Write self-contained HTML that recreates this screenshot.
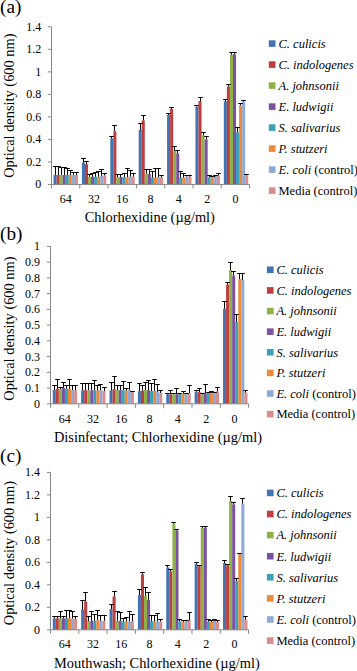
<!DOCTYPE html>
<html><head><meta charset="utf-8"><style>
html,body{margin:0;padding:0;background:#fff;}
body{width:357px;height:671px;overflow:hidden;}
svg{display:block;}
text{font-family:"Liberation Serif",serif;fill:#000;}
</style></head><body>
<svg width="357" height="671" viewBox="0 0 357 671">
<rect width="357" height="671" fill="#fff"/>
<text x="0" y="12.8" font-size="19.2">(a)</text>
<line x1="47.9" y1="184.44" x2="51.5" y2="184.44" stroke="#868686" stroke-width="1"/>
<text x="41.2" y="188.44" font-size="12" text-anchor="end">0</text>
<line x1="47.9" y1="161.93" x2="51.5" y2="161.93" stroke="#868686" stroke-width="1"/>
<text x="41.2" y="165.93" font-size="12" text-anchor="end">0.2</text>
<line x1="47.9" y1="139.41" x2="51.5" y2="139.41" stroke="#868686" stroke-width="1"/>
<text x="41.2" y="143.41" font-size="12" text-anchor="end">0.4</text>
<line x1="47.9" y1="116.9" x2="51.5" y2="116.9" stroke="#868686" stroke-width="1"/>
<text x="41.2" y="120.9" font-size="12" text-anchor="end">0.6</text>
<line x1="47.9" y1="94.39" x2="51.5" y2="94.39" stroke="#868686" stroke-width="1"/>
<text x="41.2" y="98.39" font-size="12" text-anchor="end">0.8</text>
<line x1="47.9" y1="71.88" x2="51.5" y2="71.88" stroke="#868686" stroke-width="1"/>
<text x="41.2" y="75.88" font-size="12" text-anchor="end">1</text>
<line x1="47.9" y1="49.36" x2="51.5" y2="49.36" stroke="#868686" stroke-width="1"/>
<text x="41.2" y="53.36" font-size="12" text-anchor="end">1.2</text>
<line x1="47.9" y1="26.85" x2="51.5" y2="26.85" stroke="#868686" stroke-width="1"/>
<text x="41.2" y="30.85" font-size="12" text-anchor="end">1.4</text>
<rect x="53.55" y="174.93" width="3.05" height="9.51" fill="#4374B2"/>
<rect x="56.6" y="174.93" width="3.05" height="9.51" fill="#BE3F3F"/>
<rect x="59.65" y="174.93" width="3.05" height="9.51" fill="#8FB247"/>
<rect x="62.7" y="174.93" width="3.05" height="9.51" fill="#7A52A0"/>
<rect x="65.75" y="174.93" width="3.05" height="9.51" fill="#3AA2B8"/>
<rect x="68.8" y="174.93" width="3.05" height="9.51" fill="#EC8A3A"/>
<rect x="71.85" y="174.93" width="3.05" height="9.51" fill="#8FAAD5"/>
<rect x="74.9" y="174.93" width="3.05" height="9.51" fill="#DB8D8E"/>
<line x1="55.5" y1="174.93" x2="55.5" y2="166.5" stroke="#000" stroke-width="1"/>
<line x1="53.2" y1="166.5" x2="57.8" y2="166.5" stroke="#000" stroke-width="1"/>
<line x1="58.5" y1="174.93" x2="58.5" y2="166.5" stroke="#000" stroke-width="1"/>
<line x1="56.2" y1="166.5" x2="60.8" y2="166.5" stroke="#000" stroke-width="1"/>
<line x1="61.5" y1="174.93" x2="61.5" y2="167.5" stroke="#000" stroke-width="1"/>
<line x1="59.2" y1="167.5" x2="63.8" y2="167.5" stroke="#000" stroke-width="1"/>
<line x1="64.5" y1="174.93" x2="64.5" y2="167.5" stroke="#000" stroke-width="1"/>
<line x1="62.2" y1="167.5" x2="66.8" y2="167.5" stroke="#000" stroke-width="1"/>
<line x1="67.5" y1="174.93" x2="67.5" y2="168.5" stroke="#000" stroke-width="1"/>
<line x1="65.2" y1="168.5" x2="69.8" y2="168.5" stroke="#000" stroke-width="1"/>
<line x1="70.5" y1="174.93" x2="70.5" y2="170.5" stroke="#000" stroke-width="1"/>
<line x1="68.2" y1="170.5" x2="72.8" y2="170.5" stroke="#000" stroke-width="1"/>
<line x1="73.5" y1="174.93" x2="73.5" y2="172.5" stroke="#000" stroke-width="1"/>
<line x1="71.2" y1="172.5" x2="75.8" y2="172.5" stroke="#000" stroke-width="1"/>
<line x1="76.5" y1="174.93" x2="76.5" y2="172.5" stroke="#000" stroke-width="1"/>
<line x1="74.2" y1="172.5" x2="78.8" y2="172.5" stroke="#000" stroke-width="1"/>
<rect x="81.93" y="162.55" width="3.05" height="21.89" fill="#4374B2"/>
<rect x="84.98" y="164.24" width="3.05" height="20.2" fill="#BE3F3F"/>
<rect x="88.03" y="176.74" width="3.05" height="7.7" fill="#8FB247"/>
<rect x="91.08" y="176.74" width="3.05" height="7.7" fill="#7A52A0"/>
<rect x="94.13" y="176.74" width="3.05" height="7.7" fill="#3AA2B8"/>
<rect x="97.18" y="176.74" width="3.05" height="7.7" fill="#EC8A3A"/>
<rect x="100.23" y="175.84" width="3.05" height="8.6" fill="#8FAAD5"/>
<rect x="103.28" y="175.39" width="3.05" height="9.05" fill="#DB8D8E"/>
<line x1="83.5" y1="162.55" x2="83.5" y2="158.5" stroke="#000" stroke-width="1"/>
<line x1="81.2" y1="158.5" x2="85.8" y2="158.5" stroke="#000" stroke-width="1"/>
<line x1="86.5" y1="164.24" x2="86.5" y2="161.5" stroke="#000" stroke-width="1"/>
<line x1="84.2" y1="161.5" x2="88.8" y2="161.5" stroke="#000" stroke-width="1"/>
<line x1="89.5" y1="176.74" x2="89.5" y2="174.5" stroke="#000" stroke-width="1"/>
<line x1="87.2" y1="174.5" x2="91.8" y2="174.5" stroke="#000" stroke-width="1"/>
<line x1="92.5" y1="176.74" x2="92.5" y2="173.5" stroke="#000" stroke-width="1"/>
<line x1="90.2" y1="173.5" x2="94.8" y2="173.5" stroke="#000" stroke-width="1"/>
<line x1="95.5" y1="176.74" x2="95.5" y2="172.5" stroke="#000" stroke-width="1"/>
<line x1="93.2" y1="172.5" x2="97.8" y2="172.5" stroke="#000" stroke-width="1"/>
<line x1="98.5" y1="176.74" x2="98.5" y2="171.5" stroke="#000" stroke-width="1"/>
<line x1="96.2" y1="171.5" x2="100.8" y2="171.5" stroke="#000" stroke-width="1"/>
<line x1="101.5" y1="175.84" x2="101.5" y2="169.5" stroke="#000" stroke-width="1"/>
<line x1="99.2" y1="169.5" x2="103.8" y2="169.5" stroke="#000" stroke-width="1"/>
<line x1="104.5" y1="175.39" x2="104.5" y2="173.5" stroke="#000" stroke-width="1"/>
<line x1="102.2" y1="173.5" x2="106.8" y2="173.5" stroke="#000" stroke-width="1"/>
<rect x="110.31" y="138.46" width="3.05" height="45.98" fill="#4374B2"/>
<rect x="113.36" y="131.26" width="3.05" height="53.18" fill="#BE3F3F"/>
<rect x="116.41" y="176.96" width="3.05" height="7.48" fill="#8FB247"/>
<rect x="119.46" y="176.96" width="3.05" height="7.48" fill="#7A52A0"/>
<rect x="122.51" y="177.19" width="3.05" height="7.25" fill="#3AA2B8"/>
<rect x="125.56" y="177.19" width="3.05" height="7.25" fill="#EC8A3A"/>
<rect x="128.61" y="176.51" width="3.05" height="7.93" fill="#8FAAD5"/>
<rect x="131.66" y="176.51" width="3.05" height="7.93" fill="#DB8D8E"/>
<line x1="111.5" y1="138.46" x2="111.5" y2="136.5" stroke="#000" stroke-width="1"/>
<line x1="109.2" y1="136.5" x2="113.8" y2="136.5" stroke="#000" stroke-width="1"/>
<line x1="114.5" y1="131.26" x2="114.5" y2="125.5" stroke="#000" stroke-width="1"/>
<line x1="112.2" y1="125.5" x2="116.8" y2="125.5" stroke="#000" stroke-width="1"/>
<line x1="117.5" y1="176.96" x2="117.5" y2="174.5" stroke="#000" stroke-width="1"/>
<line x1="115.2" y1="174.5" x2="119.8" y2="174.5" stroke="#000" stroke-width="1"/>
<line x1="120.5" y1="176.96" x2="120.5" y2="174.5" stroke="#000" stroke-width="1"/>
<line x1="118.2" y1="174.5" x2="122.8" y2="174.5" stroke="#000" stroke-width="1"/>
<line x1="124.5" y1="177.19" x2="124.5" y2="173.5" stroke="#000" stroke-width="1"/>
<line x1="122.2" y1="173.5" x2="126.8" y2="173.5" stroke="#000" stroke-width="1"/>
<line x1="127.5" y1="177.19" x2="127.5" y2="168.5" stroke="#000" stroke-width="1"/>
<line x1="125.2" y1="168.5" x2="129.8" y2="168.5" stroke="#000" stroke-width="1"/>
<line x1="130.5" y1="176.51" x2="130.5" y2="170.5" stroke="#000" stroke-width="1"/>
<line x1="128.2" y1="170.5" x2="132.8" y2="170.5" stroke="#000" stroke-width="1"/>
<line x1="133.5" y1="176.51" x2="133.5" y2="173.5" stroke="#000" stroke-width="1"/>
<line x1="131.2" y1="173.5" x2="135.8" y2="173.5" stroke="#000" stroke-width="1"/>
<rect x="138.69" y="129.91" width="3.05" height="54.53" fill="#4374B2"/>
<rect x="141.74" y="120.34" width="3.05" height="64.1" fill="#BE3F3F"/>
<rect x="144.79" y="173.47" width="3.05" height="10.97" fill="#8FB247"/>
<rect x="147.84" y="174.03" width="3.05" height="10.41" fill="#7A52A0"/>
<rect x="150.89" y="177.64" width="3.05" height="6.8" fill="#3AA2B8"/>
<rect x="153.94" y="177.64" width="3.05" height="6.8" fill="#EC8A3A"/>
<rect x="156.99" y="177.07" width="3.05" height="7.37" fill="#8FAAD5"/>
<rect x="160.04" y="177.07" width="3.05" height="7.37" fill="#DB8D8E"/>
<line x1="140.5" y1="129.91" x2="140.5" y2="123.5" stroke="#000" stroke-width="1"/>
<line x1="138.2" y1="123.5" x2="142.8" y2="123.5" stroke="#000" stroke-width="1"/>
<line x1="143.5" y1="120.34" x2="143.5" y2="115.5" stroke="#000" stroke-width="1"/>
<line x1="141.2" y1="115.5" x2="145.8" y2="115.5" stroke="#000" stroke-width="1"/>
<line x1="146.5" y1="173.47" x2="146.5" y2="169.5" stroke="#000" stroke-width="1"/>
<line x1="144.2" y1="169.5" x2="148.8" y2="169.5" stroke="#000" stroke-width="1"/>
<line x1="149.5" y1="174.03" x2="149.5" y2="169.5" stroke="#000" stroke-width="1"/>
<line x1="147.2" y1="169.5" x2="151.8" y2="169.5" stroke="#000" stroke-width="1"/>
<line x1="152.5" y1="177.64" x2="152.5" y2="171.5" stroke="#000" stroke-width="1"/>
<line x1="150.2" y1="171.5" x2="154.8" y2="171.5" stroke="#000" stroke-width="1"/>
<line x1="155.5" y1="177.64" x2="155.5" y2="168.5" stroke="#000" stroke-width="1"/>
<line x1="153.2" y1="168.5" x2="157.8" y2="168.5" stroke="#000" stroke-width="1"/>
<line x1="158.5" y1="177.07" x2="158.5" y2="168.5" stroke="#000" stroke-width="1"/>
<line x1="156.2" y1="168.5" x2="160.8" y2="168.5" stroke="#000" stroke-width="1"/>
<line x1="161.5" y1="177.07" x2="161.5" y2="175.5" stroke="#000" stroke-width="1"/>
<line x1="159.2" y1="175.5" x2="163.8" y2="175.5" stroke="#000" stroke-width="1"/>
<rect x="167.07" y="114.94" width="3.05" height="69.5" fill="#4374B2"/>
<rect x="170.12" y="108.97" width="3.05" height="75.47" fill="#BE3F3F"/>
<rect x="173.17" y="150.73" width="3.05" height="33.71" fill="#8FB247"/>
<rect x="176.22" y="153.44" width="3.05" height="31" fill="#7A52A0"/>
<rect x="179.27" y="177.64" width="3.05" height="6.8" fill="#3AA2B8"/>
<rect x="182.32" y="177.41" width="3.05" height="7.03" fill="#EC8A3A"/>
<rect x="185.37" y="176.4" width="3.05" height="8.04" fill="#8FAAD5"/>
<rect x="188.42" y="176.4" width="3.05" height="8.04" fill="#DB8D8E"/>
<line x1="168.5" y1="114.94" x2="168.5" y2="113.5" stroke="#000" stroke-width="1"/>
<line x1="166.2" y1="113.5" x2="170.8" y2="113.5" stroke="#000" stroke-width="1"/>
<line x1="171.5" y1="108.97" x2="171.5" y2="107.5" stroke="#000" stroke-width="1"/>
<line x1="169.2" y1="107.5" x2="173.8" y2="107.5" stroke="#000" stroke-width="1"/>
<line x1="174.5" y1="150.73" x2="174.5" y2="146.5" stroke="#000" stroke-width="1"/>
<line x1="172.2" y1="146.5" x2="176.8" y2="146.5" stroke="#000" stroke-width="1"/>
<line x1="177.5" y1="153.44" x2="177.5" y2="150.5" stroke="#000" stroke-width="1"/>
<line x1="175.2" y1="150.5" x2="179.8" y2="150.5" stroke="#000" stroke-width="1"/>
<line x1="180.5" y1="177.64" x2="180.5" y2="171.5" stroke="#000" stroke-width="1"/>
<line x1="178.2" y1="171.5" x2="182.8" y2="171.5" stroke="#000" stroke-width="1"/>
<line x1="183.5" y1="177.41" x2="183.5" y2="173.5" stroke="#000" stroke-width="1"/>
<line x1="181.2" y1="173.5" x2="185.8" y2="173.5" stroke="#000" stroke-width="1"/>
<line x1="186.5" y1="176.4" x2="186.5" y2="175.5" stroke="#000" stroke-width="1"/>
<line x1="184.2" y1="175.5" x2="188.8" y2="175.5" stroke="#000" stroke-width="1"/>
<line x1="189.5" y1="176.4" x2="189.5" y2="175.5" stroke="#000" stroke-width="1"/>
<line x1="187.2" y1="175.5" x2="191.8" y2="175.5" stroke="#000" stroke-width="1"/>
<rect x="195.45" y="106.61" width="3.05" height="77.83" fill="#4374B2"/>
<rect x="198.5" y="100.98" width="3.05" height="83.46" fill="#BE3F3F"/>
<rect x="201.55" y="135.42" width="3.05" height="49.02" fill="#8FB247"/>
<rect x="204.6" y="139.48" width="3.05" height="44.96" fill="#7A52A0"/>
<rect x="207.65" y="177.3" width="3.05" height="7.14" fill="#3AA2B8"/>
<rect x="210.7" y="177.3" width="3.05" height="7.14" fill="#EC8A3A"/>
<rect x="213.75" y="176.29" width="3.05" height="8.15" fill="#8FAAD5"/>
<rect x="216.8" y="175.39" width="3.05" height="9.05" fill="#DB8D8E"/>
<line x1="196.5" y1="106.61" x2="196.5" y2="105.5" stroke="#000" stroke-width="1"/>
<line x1="194.2" y1="105.5" x2="198.8" y2="105.5" stroke="#000" stroke-width="1"/>
<line x1="200.5" y1="100.98" x2="200.5" y2="97.5" stroke="#000" stroke-width="1"/>
<line x1="198.2" y1="97.5" x2="202.8" y2="97.5" stroke="#000" stroke-width="1"/>
<line x1="203.5" y1="135.42" x2="203.5" y2="132.5" stroke="#000" stroke-width="1"/>
<line x1="201.2" y1="132.5" x2="205.8" y2="132.5" stroke="#000" stroke-width="1"/>
<line x1="206.5" y1="139.48" x2="206.5" y2="136.5" stroke="#000" stroke-width="1"/>
<line x1="204.2" y1="136.5" x2="208.8" y2="136.5" stroke="#000" stroke-width="1"/>
<line x1="209.5" y1="177.3" x2="209.5" y2="175.5" stroke="#000" stroke-width="1"/>
<line x1="207.2" y1="175.5" x2="211.8" y2="175.5" stroke="#000" stroke-width="1"/>
<line x1="212.5" y1="177.3" x2="212.5" y2="176.5" stroke="#000" stroke-width="1"/>
<line x1="210.2" y1="176.5" x2="214.8" y2="176.5" stroke="#000" stroke-width="1"/>
<line x1="215.5" y1="176.29" x2="215.5" y2="175.5" stroke="#000" stroke-width="1"/>
<line x1="213.2" y1="175.5" x2="217.8" y2="175.5" stroke="#000" stroke-width="1"/>
<line x1="218.5" y1="175.39" x2="218.5" y2="173.5" stroke="#000" stroke-width="1"/>
<line x1="216.2" y1="173.5" x2="220.8" y2="173.5" stroke="#000" stroke-width="1"/>
<rect x="223.83" y="101.21" width="3.05" height="83.23" fill="#4374B2"/>
<rect x="226.88" y="86.46" width="3.05" height="97.98" fill="#BE3F3F"/>
<rect x="229.93" y="54.72" width="3.05" height="129.72" fill="#8FB247"/>
<rect x="232.98" y="54.27" width="3.05" height="130.17" fill="#7A52A0"/>
<rect x="236.03" y="132.39" width="3.05" height="52.05" fill="#3AA2B8"/>
<rect x="239.08" y="105.14" width="3.05" height="79.3" fill="#EC8A3A"/>
<rect x="242.13" y="101.43" width="3.05" height="83.01" fill="#8FAAD5"/>
<rect x="245.18" y="175.5" width="3.05" height="8.94" fill="#DB8D8E"/>
<line x1="225.5" y1="101.21" x2="225.5" y2="99.5" stroke="#000" stroke-width="1"/>
<line x1="223.2" y1="99.5" x2="227.8" y2="99.5" stroke="#000" stroke-width="1"/>
<line x1="228.5" y1="86.46" x2="228.5" y2="84.5" stroke="#000" stroke-width="1"/>
<line x1="226.2" y1="84.5" x2="230.8" y2="84.5" stroke="#000" stroke-width="1"/>
<line x1="231.5" y1="54.72" x2="231.5" y2="52.5" stroke="#000" stroke-width="1"/>
<line x1="229.2" y1="52.5" x2="233.8" y2="52.5" stroke="#000" stroke-width="1"/>
<line x1="234.5" y1="54.27" x2="234.5" y2="52.5" stroke="#000" stroke-width="1"/>
<line x1="232.2" y1="52.5" x2="236.8" y2="52.5" stroke="#000" stroke-width="1"/>
<line x1="237.5" y1="132.39" x2="237.5" y2="127.5" stroke="#000" stroke-width="1"/>
<line x1="235.2" y1="127.5" x2="239.8" y2="127.5" stroke="#000" stroke-width="1"/>
<line x1="240.5" y1="105.14" x2="240.5" y2="103.5" stroke="#000" stroke-width="1"/>
<line x1="238.2" y1="103.5" x2="242.8" y2="103.5" stroke="#000" stroke-width="1"/>
<line x1="243.5" y1="101.43" x2="243.5" y2="100.5" stroke="#000" stroke-width="1"/>
<line x1="241.2" y1="100.5" x2="245.8" y2="100.5" stroke="#000" stroke-width="1"/>
<line x1="246.5" y1="175.5" x2="246.5" y2="174.5" stroke="#000" stroke-width="1"/>
<line x1="244.2" y1="174.5" x2="248.8" y2="174.5" stroke="#000" stroke-width="1"/>
<line x1="51.5" y1="26.85" x2="51.5" y2="184.44" stroke="#868686" stroke-width="1"/>
<line x1="51.5" y1="184.44" x2="249.6" y2="184.44" stroke="#868686" stroke-width="1"/>
<line x1="51.5" y1="184.44" x2="51.5" y2="188.44" stroke="#868686" stroke-width="1"/>
<line x1="79.8" y1="184.44" x2="79.8" y2="188.44" stroke="#868686" stroke-width="1"/>
<line x1="108.1" y1="184.44" x2="108.1" y2="188.44" stroke="#868686" stroke-width="1"/>
<line x1="136.4" y1="184.44" x2="136.4" y2="188.44" stroke="#868686" stroke-width="1"/>
<line x1="164.7" y1="184.44" x2="164.7" y2="188.44" stroke="#868686" stroke-width="1"/>
<line x1="193" y1="184.44" x2="193" y2="188.44" stroke="#868686" stroke-width="1"/>
<line x1="221.3" y1="184.44" x2="221.3" y2="188.44" stroke="#868686" stroke-width="1"/>
<line x1="249.6" y1="184.44" x2="249.6" y2="188.44" stroke="#868686" stroke-width="1"/>
<text x="65.65" y="202.5" font-size="12" text-anchor="middle">64</text>
<text x="93.95" y="202.5" font-size="12" text-anchor="middle">32</text>
<text x="122.25" y="202.5" font-size="12" text-anchor="middle">16</text>
<text x="150.55" y="202.5" font-size="12" text-anchor="middle">8</text>
<text x="178.85" y="202.5" font-size="12" text-anchor="middle">4</text>
<text x="207.15" y="202.5" font-size="12" text-anchor="middle">2</text>
<text x="235.45" y="202.5" font-size="12" text-anchor="middle">0</text>
<text x="84.7" y="221.6" font-size="14.4">Chlorhexidine (µg/ml)</text>
<text transform="translate(13.8,105.64) rotate(-90)" font-size="14.4" text-anchor="middle">Optical density (600 nm)</text>
<rect x="268.8" y="40.3" width="6.7" height="6.6" fill="#4374B2"/>
<text x="278.5" y="47.9" font-size="12.5" xml:space="preserve"><tspan font-style="italic">C. culicis</tspan></text>
<rect x="268.8" y="61.3" width="6.7" height="6.6" fill="#BE3F3F"/>
<text x="278.5" y="68.9" font-size="12.5" xml:space="preserve"><tspan font-style="italic">C. indologenes</tspan></text>
<rect x="268.8" y="82.3" width="6.7" height="6.6" fill="#8FB247"/>
<text x="278.5" y="89.9" font-size="12.5" xml:space="preserve"><tspan font-style="italic">A. johnsonii</tspan></text>
<rect x="268.8" y="103.3" width="6.7" height="6.6" fill="#7A52A0"/>
<text x="278.5" y="110.9" font-size="12.5" xml:space="preserve"><tspan font-style="italic">E. ludwigii</tspan></text>
<rect x="268.8" y="124.3" width="6.7" height="6.6" fill="#3AA2B8"/>
<text x="278.5" y="131.9" font-size="12.5" xml:space="preserve"><tspan font-style="italic">S. salivarius</tspan></text>
<rect x="268.8" y="145.3" width="6.7" height="6.6" fill="#EC8A3A"/>
<text x="278.5" y="152.9" font-size="12.5" xml:space="preserve"><tspan font-style="italic">P. stutzeri</tspan></text>
<rect x="268.8" y="166.3" width="6.7" height="6.6" fill="#8FAAD5"/>
<text x="278.5" y="173.9" font-size="12.5" xml:space="preserve"><tspan font-style="italic">E. coli</tspan> (control)</text>
<rect x="268.8" y="187.3" width="6.7" height="6.6" fill="#DB8D8E"/>
<text x="278.5" y="194.9" font-size="12.5" xml:space="preserve">Media (control)</text>
<text x="0" y="239.9" font-size="19.2">(b)</text>
<line x1="46.9" y1="403.8" x2="50.5" y2="403.8" stroke="#868686" stroke-width="1"/>
<text x="40.1" y="407.8" font-size="12" text-anchor="end">0</text>
<line x1="46.9" y1="388.06" x2="50.5" y2="388.06" stroke="#868686" stroke-width="1"/>
<text x="40.1" y="392.06" font-size="12" text-anchor="end">0.1</text>
<line x1="46.9" y1="372.32" x2="50.5" y2="372.32" stroke="#868686" stroke-width="1"/>
<text x="40.1" y="376.32" font-size="12" text-anchor="end">0.2</text>
<line x1="46.9" y1="356.58" x2="50.5" y2="356.58" stroke="#868686" stroke-width="1"/>
<text x="40.1" y="360.58" font-size="12" text-anchor="end">0.3</text>
<line x1="46.9" y1="340.84" x2="50.5" y2="340.84" stroke="#868686" stroke-width="1"/>
<text x="40.1" y="344.84" font-size="12" text-anchor="end">0.4</text>
<line x1="46.9" y1="325.1" x2="50.5" y2="325.1" stroke="#868686" stroke-width="1"/>
<text x="40.1" y="329.1" font-size="12" text-anchor="end">0.5</text>
<line x1="46.9" y1="309.36" x2="50.5" y2="309.36" stroke="#868686" stroke-width="1"/>
<text x="40.1" y="313.36" font-size="12" text-anchor="end">0.6</text>
<line x1="46.9" y1="293.62" x2="50.5" y2="293.62" stroke="#868686" stroke-width="1"/>
<text x="40.1" y="297.62" font-size="12" text-anchor="end">0.7</text>
<line x1="46.9" y1="277.88" x2="50.5" y2="277.88" stroke="#868686" stroke-width="1"/>
<text x="40.1" y="281.88" font-size="12" text-anchor="end">0.8</text>
<line x1="46.9" y1="262.14" x2="50.5" y2="262.14" stroke="#868686" stroke-width="1"/>
<text x="40.1" y="266.14" font-size="12" text-anchor="end">0.9</text>
<line x1="46.9" y1="246.4" x2="50.5" y2="246.4" stroke="#868686" stroke-width="1"/>
<text x="40.1" y="250.4" font-size="12" text-anchor="end">1</text>
<rect x="52.75" y="390.06" width="3.05" height="13.74" fill="#4374B2"/>
<rect x="55.8" y="388.8" width="3.05" height="15" fill="#BE3F3F"/>
<rect x="58.85" y="389.12" width="3.05" height="14.68" fill="#8FB247"/>
<rect x="61.9" y="387.86" width="3.05" height="15.94" fill="#7A52A0"/>
<rect x="64.95" y="388.8" width="3.05" height="15" fill="#3AA2B8"/>
<rect x="68" y="388.8" width="3.05" height="15" fill="#EC8A3A"/>
<rect x="71.05" y="390.06" width="3.05" height="13.74" fill="#8FAAD5"/>
<rect x="74.1" y="390.54" width="3.05" height="13.26" fill="#DB8D8E"/>
<line x1="54.5" y1="390.06" x2="54.5" y2="385.5" stroke="#000" stroke-width="1"/>
<line x1="52.2" y1="385.5" x2="56.8" y2="385.5" stroke="#000" stroke-width="1"/>
<line x1="57.5" y1="388.8" x2="57.5" y2="379.5" stroke="#000" stroke-width="1"/>
<line x1="55.2" y1="379.5" x2="59.8" y2="379.5" stroke="#000" stroke-width="1"/>
<line x1="60.5" y1="389.12" x2="60.5" y2="387.5" stroke="#000" stroke-width="1"/>
<line x1="58.2" y1="387.5" x2="62.8" y2="387.5" stroke="#000" stroke-width="1"/>
<line x1="63.5" y1="387.86" x2="63.5" y2="382.5" stroke="#000" stroke-width="1"/>
<line x1="61.2" y1="382.5" x2="65.8" y2="382.5" stroke="#000" stroke-width="1"/>
<line x1="66.5" y1="388.8" x2="66.5" y2="385.5" stroke="#000" stroke-width="1"/>
<line x1="64.2" y1="385.5" x2="68.8" y2="385.5" stroke="#000" stroke-width="1"/>
<line x1="69.5" y1="388.8" x2="69.5" y2="379.5" stroke="#000" stroke-width="1"/>
<line x1="67.2" y1="379.5" x2="71.8" y2="379.5" stroke="#000" stroke-width="1"/>
<line x1="72.5" y1="390.06" x2="72.5" y2="385.5" stroke="#000" stroke-width="1"/>
<line x1="70.2" y1="385.5" x2="74.8" y2="385.5" stroke="#000" stroke-width="1"/>
<line x1="75.5" y1="390.54" x2="75.5" y2="385.5" stroke="#000" stroke-width="1"/>
<line x1="73.2" y1="385.5" x2="77.8" y2="385.5" stroke="#000" stroke-width="1"/>
<rect x="81.13" y="390.22" width="3.05" height="13.58" fill="#4374B2"/>
<rect x="84.18" y="390.22" width="3.05" height="13.58" fill="#BE3F3F"/>
<rect x="87.23" y="390.22" width="3.05" height="13.58" fill="#8FB247"/>
<rect x="90.28" y="390.22" width="3.05" height="13.58" fill="#7A52A0"/>
<rect x="93.33" y="390.22" width="3.05" height="13.58" fill="#3AA2B8"/>
<rect x="96.38" y="390.22" width="3.05" height="13.58" fill="#EC8A3A"/>
<rect x="99.43" y="390.22" width="3.05" height="13.58" fill="#8FAAD5"/>
<rect x="102.48" y="391.01" width="3.05" height="12.79" fill="#DB8D8E"/>
<line x1="82.5" y1="390.22" x2="82.5" y2="383.5" stroke="#000" stroke-width="1"/>
<line x1="80.2" y1="383.5" x2="84.8" y2="383.5" stroke="#000" stroke-width="1"/>
<line x1="85.5" y1="390.22" x2="85.5" y2="383.5" stroke="#000" stroke-width="1"/>
<line x1="83.2" y1="383.5" x2="87.8" y2="383.5" stroke="#000" stroke-width="1"/>
<line x1="88.5" y1="390.22" x2="88.5" y2="383.5" stroke="#000" stroke-width="1"/>
<line x1="86.2" y1="383.5" x2="90.8" y2="383.5" stroke="#000" stroke-width="1"/>
<line x1="91.5" y1="390.22" x2="91.5" y2="383.5" stroke="#000" stroke-width="1"/>
<line x1="89.2" y1="383.5" x2="93.8" y2="383.5" stroke="#000" stroke-width="1"/>
<line x1="94.5" y1="390.22" x2="94.5" y2="380.5" stroke="#000" stroke-width="1"/>
<line x1="92.2" y1="380.5" x2="96.8" y2="380.5" stroke="#000" stroke-width="1"/>
<line x1="97.5" y1="390.22" x2="97.5" y2="385.5" stroke="#000" stroke-width="1"/>
<line x1="95.2" y1="385.5" x2="99.8" y2="385.5" stroke="#000" stroke-width="1"/>
<line x1="100.5" y1="390.22" x2="100.5" y2="384.5" stroke="#000" stroke-width="1"/>
<line x1="98.2" y1="384.5" x2="102.8" y2="384.5" stroke="#000" stroke-width="1"/>
<line x1="104.5" y1="391.01" x2="104.5" y2="387.5" stroke="#000" stroke-width="1"/>
<line x1="102.2" y1="387.5" x2="106.8" y2="387.5" stroke="#000" stroke-width="1"/>
<rect x="109.51" y="390.54" width="3.05" height="13.26" fill="#4374B2"/>
<rect x="112.56" y="388.96" width="3.05" height="14.84" fill="#BE3F3F"/>
<rect x="115.61" y="390.06" width="3.05" height="13.74" fill="#8FB247"/>
<rect x="118.66" y="390.22" width="3.05" height="13.58" fill="#7A52A0"/>
<rect x="121.71" y="390.22" width="3.05" height="13.58" fill="#3AA2B8"/>
<rect x="124.76" y="390.54" width="3.05" height="13.26" fill="#EC8A3A"/>
<rect x="127.81" y="390.22" width="3.05" height="13.58" fill="#8FAAD5"/>
<rect x="130.86" y="391.95" width="3.05" height="11.85" fill="#DB8D8E"/>
<line x1="111.5" y1="390.54" x2="111.5" y2="382.5" stroke="#000" stroke-width="1"/>
<line x1="109.2" y1="382.5" x2="113.8" y2="382.5" stroke="#000" stroke-width="1"/>
<line x1="114.5" y1="388.96" x2="114.5" y2="376.5" stroke="#000" stroke-width="1"/>
<line x1="112.2" y1="376.5" x2="116.8" y2="376.5" stroke="#000" stroke-width="1"/>
<line x1="117.5" y1="390.06" x2="117.5" y2="385.5" stroke="#000" stroke-width="1"/>
<line x1="115.2" y1="385.5" x2="119.8" y2="385.5" stroke="#000" stroke-width="1"/>
<line x1="120.5" y1="390.22" x2="120.5" y2="385.5" stroke="#000" stroke-width="1"/>
<line x1="118.2" y1="385.5" x2="122.8" y2="385.5" stroke="#000" stroke-width="1"/>
<line x1="123.5" y1="390.22" x2="123.5" y2="381.5" stroke="#000" stroke-width="1"/>
<line x1="121.2" y1="381.5" x2="125.8" y2="381.5" stroke="#000" stroke-width="1"/>
<line x1="126.5" y1="390.54" x2="126.5" y2="388.5" stroke="#000" stroke-width="1"/>
<line x1="124.2" y1="388.5" x2="128.8" y2="388.5" stroke="#000" stroke-width="1"/>
<line x1="129.5" y1="390.22" x2="129.5" y2="382.5" stroke="#000" stroke-width="1"/>
<line x1="127.2" y1="382.5" x2="131.8" y2="382.5" stroke="#000" stroke-width="1"/>
<line x1="132.5" y1="391.95" x2="132.5" y2="391.5" stroke="#000" stroke-width="1"/>
<line x1="130.2" y1="391.5" x2="134.8" y2="391.5" stroke="#000" stroke-width="1"/>
<rect x="137.89" y="391.17" width="3.05" height="12.63" fill="#4374B2"/>
<rect x="140.94" y="390.69" width="3.05" height="13.11" fill="#BE3F3F"/>
<rect x="143.99" y="390.06" width="3.05" height="13.74" fill="#8FB247"/>
<rect x="147.04" y="390.22" width="3.05" height="13.58" fill="#7A52A0"/>
<rect x="150.09" y="391.01" width="3.05" height="12.79" fill="#3AA2B8"/>
<rect x="153.14" y="390.69" width="3.05" height="13.11" fill="#EC8A3A"/>
<rect x="156.19" y="391.95" width="3.05" height="11.85" fill="#8FAAD5"/>
<rect x="159.24" y="392.9" width="3.05" height="10.9" fill="#DB8D8E"/>
<line x1="139.5" y1="391.17" x2="139.5" y2="383.5" stroke="#000" stroke-width="1"/>
<line x1="137.2" y1="383.5" x2="141.8" y2="383.5" stroke="#000" stroke-width="1"/>
<line x1="142.5" y1="390.69" x2="142.5" y2="385.5" stroke="#000" stroke-width="1"/>
<line x1="140.2" y1="385.5" x2="144.8" y2="385.5" stroke="#000" stroke-width="1"/>
<line x1="145.5" y1="390.06" x2="145.5" y2="382.5" stroke="#000" stroke-width="1"/>
<line x1="143.2" y1="382.5" x2="147.8" y2="382.5" stroke="#000" stroke-width="1"/>
<line x1="148.5" y1="390.22" x2="148.5" y2="380.5" stroke="#000" stroke-width="1"/>
<line x1="146.2" y1="380.5" x2="150.8" y2="380.5" stroke="#000" stroke-width="1"/>
<line x1="151.5" y1="391.01" x2="151.5" y2="383.5" stroke="#000" stroke-width="1"/>
<line x1="149.2" y1="383.5" x2="153.8" y2="383.5" stroke="#000" stroke-width="1"/>
<line x1="154.5" y1="390.69" x2="154.5" y2="379.5" stroke="#000" stroke-width="1"/>
<line x1="152.2" y1="379.5" x2="156.8" y2="379.5" stroke="#000" stroke-width="1"/>
<line x1="157.5" y1="391.95" x2="157.5" y2="384.5" stroke="#000" stroke-width="1"/>
<line x1="155.2" y1="384.5" x2="159.8" y2="384.5" stroke="#000" stroke-width="1"/>
<line x1="160.5" y1="392.9" x2="160.5" y2="390.5" stroke="#000" stroke-width="1"/>
<line x1="158.2" y1="390.5" x2="162.8" y2="390.5" stroke="#000" stroke-width="1"/>
<rect x="166.27" y="394.31" width="3.05" height="9.49" fill="#4374B2"/>
<rect x="169.32" y="394.31" width="3.05" height="9.49" fill="#BE3F3F"/>
<rect x="172.37" y="394.31" width="3.05" height="9.49" fill="#8FB247"/>
<rect x="175.42" y="394.16" width="3.05" height="9.64" fill="#7A52A0"/>
<rect x="178.47" y="393.84" width="3.05" height="9.96" fill="#3AA2B8"/>
<rect x="181.52" y="393.84" width="3.05" height="9.96" fill="#EC8A3A"/>
<rect x="184.57" y="393.53" width="3.05" height="10.27" fill="#8FAAD5"/>
<rect x="187.62" y="392.9" width="3.05" height="10.9" fill="#DB8D8E"/>
<line x1="167.5" y1="394.31" x2="167.5" y2="393.5" stroke="#000" stroke-width="1"/>
<line x1="165.2" y1="393.5" x2="169.8" y2="393.5" stroke="#000" stroke-width="1"/>
<line x1="170.5" y1="394.31" x2="170.5" y2="390.5" stroke="#000" stroke-width="1"/>
<line x1="168.2" y1="390.5" x2="172.8" y2="390.5" stroke="#000" stroke-width="1"/>
<line x1="173.5" y1="394.31" x2="173.5" y2="393.5" stroke="#000" stroke-width="1"/>
<line x1="171.2" y1="393.5" x2="175.8" y2="393.5" stroke="#000" stroke-width="1"/>
<line x1="176.5" y1="394.16" x2="176.5" y2="388.5" stroke="#000" stroke-width="1"/>
<line x1="174.2" y1="388.5" x2="178.8" y2="388.5" stroke="#000" stroke-width="1"/>
<line x1="179.5" y1="393.84" x2="179.5" y2="393.5" stroke="#000" stroke-width="1"/>
<line x1="177.2" y1="393.5" x2="181.8" y2="393.5" stroke="#000" stroke-width="1"/>
<line x1="183.5" y1="393.84" x2="183.5" y2="391.5" stroke="#000" stroke-width="1"/>
<line x1="181.2" y1="391.5" x2="185.8" y2="391.5" stroke="#000" stroke-width="1"/>
<line x1="184.2" y1="393.5" x2="188.8" y2="393.5" stroke="#000" stroke-width="1"/>
<line x1="189.5" y1="392.9" x2="189.5" y2="385.5" stroke="#000" stroke-width="1"/>
<line x1="187.2" y1="385.5" x2="191.8" y2="385.5" stroke="#000" stroke-width="1"/>
<rect x="194.65" y="391.64" width="3.05" height="12.16" fill="#4374B2"/>
<rect x="197.7" y="392.27" width="3.05" height="11.53" fill="#BE3F3F"/>
<rect x="200.75" y="394.31" width="3.05" height="9.49" fill="#8FB247"/>
<rect x="203.8" y="393.53" width="3.05" height="10.27" fill="#7A52A0"/>
<rect x="206.85" y="392.9" width="3.05" height="10.9" fill="#3AA2B8"/>
<rect x="209.9" y="392.9" width="3.05" height="10.9" fill="#EC8A3A"/>
<rect x="212.95" y="393.37" width="3.05" height="10.43" fill="#8FAAD5"/>
<rect x="216" y="391.17" width="3.05" height="12.63" fill="#DB8D8E"/>
<line x1="196.5" y1="391.64" x2="196.5" y2="390.5" stroke="#000" stroke-width="1"/>
<line x1="194.2" y1="390.5" x2="198.8" y2="390.5" stroke="#000" stroke-width="1"/>
<line x1="199.5" y1="392.27" x2="199.5" y2="388.5" stroke="#000" stroke-width="1"/>
<line x1="197.2" y1="388.5" x2="201.8" y2="388.5" stroke="#000" stroke-width="1"/>
<line x1="202.5" y1="394.31" x2="202.5" y2="393.5" stroke="#000" stroke-width="1"/>
<line x1="200.2" y1="393.5" x2="204.8" y2="393.5" stroke="#000" stroke-width="1"/>
<line x1="205.5" y1="393.53" x2="205.5" y2="384.5" stroke="#000" stroke-width="1"/>
<line x1="203.2" y1="384.5" x2="207.8" y2="384.5" stroke="#000" stroke-width="1"/>
<line x1="208.5" y1="392.9" x2="208.5" y2="392.5" stroke="#000" stroke-width="1"/>
<line x1="206.2" y1="392.5" x2="210.8" y2="392.5" stroke="#000" stroke-width="1"/>
<line x1="211.5" y1="392.9" x2="211.5" y2="391.5" stroke="#000" stroke-width="1"/>
<line x1="209.2" y1="391.5" x2="213.8" y2="391.5" stroke="#000" stroke-width="1"/>
<line x1="214.5" y1="393.37" x2="214.5" y2="392.5" stroke="#000" stroke-width="1"/>
<line x1="212.2" y1="392.5" x2="216.8" y2="392.5" stroke="#000" stroke-width="1"/>
<line x1="217.5" y1="391.17" x2="217.5" y2="387.5" stroke="#000" stroke-width="1"/>
<line x1="215.2" y1="387.5" x2="219.8" y2="387.5" stroke="#000" stroke-width="1"/>
<rect x="223.03" y="308.69" width="3.05" height="95.11" fill="#4374B2"/>
<rect x="226.08" y="284.61" width="3.05" height="119.19" fill="#BE3F3F"/>
<rect x="229.13" y="270.12" width="3.05" height="133.68" fill="#8FB247"/>
<rect x="232.18" y="275.63" width="3.05" height="128.17" fill="#7A52A0"/>
<rect x="235.23" y="321.91" width="3.05" height="81.89" fill="#3AA2B8"/>
<rect x="238.28" y="278.94" width="3.05" height="124.86" fill="#EC8A3A"/>
<rect x="241.33" y="280.2" width="3.05" height="123.6" fill="#8FAAD5"/>
<rect x="244.38" y="392.58" width="3.05" height="11.22" fill="#DB8D8E"/>
<line x1="224.5" y1="308.69" x2="224.5" y2="301.5" stroke="#000" stroke-width="1"/>
<line x1="222.2" y1="301.5" x2="226.8" y2="301.5" stroke="#000" stroke-width="1"/>
<line x1="227.5" y1="284.61" x2="227.5" y2="282.5" stroke="#000" stroke-width="1"/>
<line x1="225.2" y1="282.5" x2="229.8" y2="282.5" stroke="#000" stroke-width="1"/>
<line x1="230.5" y1="270.12" x2="230.5" y2="262.5" stroke="#000" stroke-width="1"/>
<line x1="228.2" y1="262.5" x2="232.8" y2="262.5" stroke="#000" stroke-width="1"/>
<line x1="233.5" y1="275.63" x2="233.5" y2="271.5" stroke="#000" stroke-width="1"/>
<line x1="231.2" y1="271.5" x2="235.8" y2="271.5" stroke="#000" stroke-width="1"/>
<line x1="236.5" y1="321.91" x2="236.5" y2="314.5" stroke="#000" stroke-width="1"/>
<line x1="234.2" y1="314.5" x2="238.8" y2="314.5" stroke="#000" stroke-width="1"/>
<line x1="239.5" y1="278.94" x2="239.5" y2="273.5" stroke="#000" stroke-width="1"/>
<line x1="237.2" y1="273.5" x2="241.8" y2="273.5" stroke="#000" stroke-width="1"/>
<line x1="242.5" y1="280.2" x2="242.5" y2="273.5" stroke="#000" stroke-width="1"/>
<line x1="240.2" y1="273.5" x2="244.8" y2="273.5" stroke="#000" stroke-width="1"/>
<line x1="245.5" y1="392.58" x2="245.5" y2="390.5" stroke="#000" stroke-width="1"/>
<line x1="243.2" y1="390.5" x2="247.8" y2="390.5" stroke="#000" stroke-width="1"/>
<line x1="50.5" y1="246.4" x2="50.5" y2="403.8" stroke="#868686" stroke-width="1"/>
<line x1="50.5" y1="403.8" x2="248.6" y2="403.8" stroke="#868686" stroke-width="1"/>
<line x1="50.5" y1="403.8" x2="50.5" y2="407.8" stroke="#868686" stroke-width="1"/>
<line x1="78.8" y1="403.8" x2="78.8" y2="407.8" stroke="#868686" stroke-width="1"/>
<line x1="107.1" y1="403.8" x2="107.1" y2="407.8" stroke="#868686" stroke-width="1"/>
<line x1="135.4" y1="403.8" x2="135.4" y2="407.8" stroke="#868686" stroke-width="1"/>
<line x1="163.7" y1="403.8" x2="163.7" y2="407.8" stroke="#868686" stroke-width="1"/>
<line x1="192" y1="403.8" x2="192" y2="407.8" stroke="#868686" stroke-width="1"/>
<line x1="220.3" y1="403.8" x2="220.3" y2="407.8" stroke="#868686" stroke-width="1"/>
<line x1="248.6" y1="403.8" x2="248.6" y2="407.8" stroke="#868686" stroke-width="1"/>
<text x="64.65" y="422.6" font-size="12" text-anchor="middle">64</text>
<text x="92.95" y="422.6" font-size="12" text-anchor="middle">32</text>
<text x="121.25" y="422.6" font-size="12" text-anchor="middle">16</text>
<text x="149.55" y="422.6" font-size="12" text-anchor="middle">8</text>
<text x="177.85" y="422.6" font-size="12" text-anchor="middle">4</text>
<text x="206.15" y="422.6" font-size="12" text-anchor="middle">2</text>
<text x="234.45" y="422.6" font-size="12" text-anchor="middle">0</text>
<text x="53.9" y="441.6" font-size="14.4">Disinfectant; Chlorhexidine (µg/ml)</text>
<text transform="translate(13.8,328.6) rotate(-90)" font-size="14.4" text-anchor="middle">Optical density (600 nm)</text>
<rect x="266.9" y="266.5" width="6.7" height="6.6" fill="#4374B2"/>
<text x="276.4" y="274.1" font-size="12.5" xml:space="preserve"><tspan font-style="italic">C. culicis</tspan></text>
<rect x="266.9" y="287.12" width="6.7" height="6.6" fill="#BE3F3F"/>
<text x="276.4" y="294.72" font-size="12.5" xml:space="preserve"><tspan font-style="italic">C. indologenes</tspan></text>
<rect x="266.9" y="307.74" width="6.7" height="6.6" fill="#8FB247"/>
<text x="276.4" y="315.34" font-size="12.5" xml:space="preserve"><tspan font-style="italic">A. johnsonii</tspan></text>
<rect x="266.9" y="328.36" width="6.7" height="6.6" fill="#7A52A0"/>
<text x="276.4" y="335.96" font-size="12.5" xml:space="preserve"><tspan font-style="italic">E. ludwigii</tspan></text>
<rect x="266.9" y="348.98" width="6.7" height="6.6" fill="#3AA2B8"/>
<text x="276.4" y="356.58" font-size="12.5" xml:space="preserve"><tspan font-style="italic">S. salivarius</tspan></text>
<rect x="266.9" y="369.6" width="6.7" height="6.6" fill="#EC8A3A"/>
<text x="276.4" y="377.2" font-size="12.5" xml:space="preserve"><tspan font-style="italic">P. stutzeri</tspan></text>
<rect x="266.9" y="390.22" width="6.7" height="6.6" fill="#8FAAD5"/>
<text x="276.4" y="397.82" font-size="12.5" xml:space="preserve"><tspan font-style="italic">E. coli</tspan> (control)</text>
<rect x="266.9" y="410.84" width="6.7" height="6.6" fill="#DB8D8E"/>
<text x="276.4" y="418.44" font-size="12.5" xml:space="preserve">Media (control)</text>
<text x="0" y="461.7" font-size="19.2">(c)</text>
<line x1="46.9" y1="629.8" x2="50.5" y2="629.8" stroke="#868686" stroke-width="1"/>
<text x="40.1" y="633.8" font-size="12" text-anchor="end">0</text>
<line x1="46.9" y1="607.31" x2="50.5" y2="607.31" stroke="#868686" stroke-width="1"/>
<text x="40.1" y="611.31" font-size="12" text-anchor="end">0.2</text>
<line x1="46.9" y1="584.83" x2="50.5" y2="584.83" stroke="#868686" stroke-width="1"/>
<text x="40.1" y="588.83" font-size="12" text-anchor="end">0.4</text>
<line x1="46.9" y1="562.34" x2="50.5" y2="562.34" stroke="#868686" stroke-width="1"/>
<text x="40.1" y="566.34" font-size="12" text-anchor="end">0.6</text>
<line x1="46.9" y1="539.86" x2="50.5" y2="539.86" stroke="#868686" stroke-width="1"/>
<text x="40.1" y="543.86" font-size="12" text-anchor="end">0.8</text>
<line x1="46.9" y1="517.37" x2="50.5" y2="517.37" stroke="#868686" stroke-width="1"/>
<text x="40.1" y="521.37" font-size="12" text-anchor="end">1</text>
<line x1="46.9" y1="494.89" x2="50.5" y2="494.89" stroke="#868686" stroke-width="1"/>
<text x="40.1" y="498.89" font-size="12" text-anchor="end">1.2</text>
<line x1="46.9" y1="472.4" x2="50.5" y2="472.4" stroke="#868686" stroke-width="1"/>
<text x="40.1" y="476.4" font-size="12" text-anchor="end">1.4</text>
<rect x="52.75" y="618.39" width="3.05" height="11.41" fill="#4374B2"/>
<rect x="55.8" y="618.39" width="3.05" height="11.41" fill="#BE3F3F"/>
<rect x="58.85" y="618.39" width="3.05" height="11.41" fill="#8FB247"/>
<rect x="61.9" y="618.39" width="3.05" height="11.41" fill="#7A52A0"/>
<rect x="64.95" y="618.39" width="3.05" height="11.41" fill="#3AA2B8"/>
<rect x="68" y="618.39" width="3.05" height="11.41" fill="#EC8A3A"/>
<rect x="71.05" y="618.39" width="3.05" height="11.41" fill="#8FAAD5"/>
<rect x="74.1" y="618.73" width="3.05" height="11.07" fill="#DB8D8E"/>
<line x1="54.5" y1="618.39" x2="54.5" y2="616.5" stroke="#000" stroke-width="1"/>
<line x1="52.2" y1="616.5" x2="56.8" y2="616.5" stroke="#000" stroke-width="1"/>
<line x1="57.5" y1="618.39" x2="57.5" y2="616.5" stroke="#000" stroke-width="1"/>
<line x1="55.2" y1="616.5" x2="59.8" y2="616.5" stroke="#000" stroke-width="1"/>
<line x1="60.5" y1="618.39" x2="60.5" y2="611.5" stroke="#000" stroke-width="1"/>
<line x1="58.2" y1="611.5" x2="62.8" y2="611.5" stroke="#000" stroke-width="1"/>
<line x1="63.5" y1="618.39" x2="63.5" y2="616.5" stroke="#000" stroke-width="1"/>
<line x1="61.2" y1="616.5" x2="65.8" y2="616.5" stroke="#000" stroke-width="1"/>
<line x1="66.5" y1="618.39" x2="66.5" y2="610.5" stroke="#000" stroke-width="1"/>
<line x1="64.2" y1="610.5" x2="68.8" y2="610.5" stroke="#000" stroke-width="1"/>
<line x1="69.5" y1="618.39" x2="69.5" y2="610.5" stroke="#000" stroke-width="1"/>
<line x1="67.2" y1="610.5" x2="71.8" y2="610.5" stroke="#000" stroke-width="1"/>
<line x1="72.5" y1="618.39" x2="72.5" y2="611.5" stroke="#000" stroke-width="1"/>
<line x1="70.2" y1="611.5" x2="74.8" y2="611.5" stroke="#000" stroke-width="1"/>
<line x1="75.5" y1="618.73" x2="75.5" y2="616.5" stroke="#000" stroke-width="1"/>
<line x1="73.2" y1="616.5" x2="77.8" y2="616.5" stroke="#000" stroke-width="1"/>
<rect x="81.13" y="609.4" width="3.05" height="20.4" fill="#4374B2"/>
<rect x="84.18" y="601.42" width="3.05" height="28.38" fill="#BE3F3F"/>
<rect x="87.23" y="621.09" width="3.05" height="8.71" fill="#8FB247"/>
<rect x="90.28" y="620.87" width="3.05" height="8.93" fill="#7A52A0"/>
<rect x="93.33" y="620.87" width="3.05" height="8.93" fill="#3AA2B8"/>
<rect x="96.38" y="620.19" width="3.05" height="9.61" fill="#EC8A3A"/>
<rect x="99.43" y="620.87" width="3.05" height="8.93" fill="#8FAAD5"/>
<rect x="102.48" y="620.87" width="3.05" height="8.93" fill="#DB8D8E"/>
<line x1="82.5" y1="609.4" x2="82.5" y2="600.5" stroke="#000" stroke-width="1"/>
<line x1="80.2" y1="600.5" x2="84.8" y2="600.5" stroke="#000" stroke-width="1"/>
<line x1="85.5" y1="601.42" x2="85.5" y2="592.5" stroke="#000" stroke-width="1"/>
<line x1="83.2" y1="592.5" x2="87.8" y2="592.5" stroke="#000" stroke-width="1"/>
<line x1="88.5" y1="621.09" x2="88.5" y2="616.5" stroke="#000" stroke-width="1"/>
<line x1="86.2" y1="616.5" x2="90.8" y2="616.5" stroke="#000" stroke-width="1"/>
<line x1="91.5" y1="620.87" x2="91.5" y2="611.5" stroke="#000" stroke-width="1"/>
<line x1="89.2" y1="611.5" x2="93.8" y2="611.5" stroke="#000" stroke-width="1"/>
<line x1="94.5" y1="620.87" x2="94.5" y2="614.5" stroke="#000" stroke-width="1"/>
<line x1="92.2" y1="614.5" x2="96.8" y2="614.5" stroke="#000" stroke-width="1"/>
<line x1="97.5" y1="620.19" x2="97.5" y2="610.5" stroke="#000" stroke-width="1"/>
<line x1="95.2" y1="610.5" x2="99.8" y2="610.5" stroke="#000" stroke-width="1"/>
<line x1="100.5" y1="620.87" x2="100.5" y2="615.5" stroke="#000" stroke-width="1"/>
<line x1="98.2" y1="615.5" x2="102.8" y2="615.5" stroke="#000" stroke-width="1"/>
<line x1="104.5" y1="620.87" x2="104.5" y2="615.5" stroke="#000" stroke-width="1"/>
<line x1="102.2" y1="615.5" x2="106.8" y2="615.5" stroke="#000" stroke-width="1"/>
<rect x="109.51" y="609.06" width="3.05" height="20.74" fill="#4374B2"/>
<rect x="112.56" y="596.47" width="3.05" height="33.33" fill="#BE3F3F"/>
<rect x="115.61" y="620.87" width="3.05" height="8.93" fill="#8FB247"/>
<rect x="118.66" y="620.87" width="3.05" height="8.93" fill="#7A52A0"/>
<rect x="121.71" y="621.43" width="3.05" height="8.37" fill="#3AA2B8"/>
<rect x="124.76" y="621.43" width="3.05" height="8.37" fill="#EC8A3A"/>
<rect x="127.81" y="621.43" width="3.05" height="8.37" fill="#8FAAD5"/>
<rect x="130.86" y="621.21" width="3.05" height="8.59" fill="#DB8D8E"/>
<line x1="111.5" y1="609.06" x2="111.5" y2="604.5" stroke="#000" stroke-width="1"/>
<line x1="109.2" y1="604.5" x2="113.8" y2="604.5" stroke="#000" stroke-width="1"/>
<line x1="114.5" y1="596.47" x2="114.5" y2="591.5" stroke="#000" stroke-width="1"/>
<line x1="112.2" y1="591.5" x2="116.8" y2="591.5" stroke="#000" stroke-width="1"/>
<line x1="117.5" y1="620.87" x2="117.5" y2="611.5" stroke="#000" stroke-width="1"/>
<line x1="115.2" y1="611.5" x2="119.8" y2="611.5" stroke="#000" stroke-width="1"/>
<line x1="120.5" y1="620.87" x2="120.5" y2="612.5" stroke="#000" stroke-width="1"/>
<line x1="118.2" y1="612.5" x2="122.8" y2="612.5" stroke="#000" stroke-width="1"/>
<line x1="123.5" y1="621.43" x2="123.5" y2="618.5" stroke="#000" stroke-width="1"/>
<line x1="121.2" y1="618.5" x2="125.8" y2="618.5" stroke="#000" stroke-width="1"/>
<line x1="126.5" y1="621.43" x2="126.5" y2="617.5" stroke="#000" stroke-width="1"/>
<line x1="124.2" y1="617.5" x2="128.8" y2="617.5" stroke="#000" stroke-width="1"/>
<line x1="129.5" y1="621.43" x2="129.5" y2="611.5" stroke="#000" stroke-width="1"/>
<line x1="127.2" y1="611.5" x2="131.8" y2="611.5" stroke="#000" stroke-width="1"/>
<line x1="132.5" y1="621.21" x2="132.5" y2="614.5" stroke="#000" stroke-width="1"/>
<line x1="130.2" y1="614.5" x2="134.8" y2="614.5" stroke="#000" stroke-width="1"/>
<rect x="137.89" y="595.01" width="3.05" height="34.79" fill="#4374B2"/>
<rect x="140.94" y="574.32" width="3.05" height="55.48" fill="#BE3F3F"/>
<rect x="143.99" y="595.8" width="3.05" height="34" fill="#8FB247"/>
<rect x="147.04" y="599.84" width="3.05" height="29.96" fill="#7A52A0"/>
<rect x="150.09" y="621.21" width="3.05" height="8.59" fill="#3AA2B8"/>
<rect x="153.14" y="621.54" width="3.05" height="8.26" fill="#EC8A3A"/>
<rect x="156.19" y="621.54" width="3.05" height="8.26" fill="#8FAAD5"/>
<rect x="159.24" y="621.54" width="3.05" height="8.26" fill="#DB8D8E"/>
<line x1="139.5" y1="595.01" x2="139.5" y2="589.5" stroke="#000" stroke-width="1"/>
<line x1="137.2" y1="589.5" x2="141.8" y2="589.5" stroke="#000" stroke-width="1"/>
<line x1="142.5" y1="574.32" x2="142.5" y2="572.5" stroke="#000" stroke-width="1"/>
<line x1="140.2" y1="572.5" x2="144.8" y2="572.5" stroke="#000" stroke-width="1"/>
<line x1="145.5" y1="595.8" x2="145.5" y2="587.5" stroke="#000" stroke-width="1"/>
<line x1="143.2" y1="587.5" x2="147.8" y2="587.5" stroke="#000" stroke-width="1"/>
<line x1="148.5" y1="599.84" x2="148.5" y2="592.5" stroke="#000" stroke-width="1"/>
<line x1="146.2" y1="592.5" x2="150.8" y2="592.5" stroke="#000" stroke-width="1"/>
<line x1="151.5" y1="621.21" x2="151.5" y2="615.5" stroke="#000" stroke-width="1"/>
<line x1="149.2" y1="615.5" x2="153.8" y2="615.5" stroke="#000" stroke-width="1"/>
<line x1="154.5" y1="621.54" x2="154.5" y2="615.5" stroke="#000" stroke-width="1"/>
<line x1="152.2" y1="615.5" x2="156.8" y2="615.5" stroke="#000" stroke-width="1"/>
<line x1="157.5" y1="621.54" x2="157.5" y2="613.5" stroke="#000" stroke-width="1"/>
<line x1="155.2" y1="613.5" x2="159.8" y2="613.5" stroke="#000" stroke-width="1"/>
<line x1="160.5" y1="621.54" x2="160.5" y2="619.5" stroke="#000" stroke-width="1"/>
<line x1="158.2" y1="619.5" x2="162.8" y2="619.5" stroke="#000" stroke-width="1"/>
<rect x="166.27" y="567.46" width="3.05" height="62.34" fill="#4374B2"/>
<rect x="169.32" y="571.4" width="3.05" height="58.4" fill="#BE3F3F"/>
<rect x="172.37" y="523.73" width="3.05" height="106.07" fill="#8FB247"/>
<rect x="175.42" y="530.48" width="3.05" height="99.32" fill="#7A52A0"/>
<rect x="178.47" y="621.43" width="3.05" height="8.37" fill="#3AA2B8"/>
<rect x="181.52" y="621.88" width="3.05" height="7.92" fill="#EC8A3A"/>
<rect x="184.57" y="621.43" width="3.05" height="8.37" fill="#8FAAD5"/>
<rect x="187.62" y="620.31" width="3.05" height="9.49" fill="#DB8D8E"/>
<line x1="167.5" y1="567.46" x2="167.5" y2="565.5" stroke="#000" stroke-width="1"/>
<line x1="165.2" y1="565.5" x2="169.8" y2="565.5" stroke="#000" stroke-width="1"/>
<line x1="170.5" y1="571.4" x2="170.5" y2="569.5" stroke="#000" stroke-width="1"/>
<line x1="168.2" y1="569.5" x2="172.8" y2="569.5" stroke="#000" stroke-width="1"/>
<line x1="173.5" y1="523.73" x2="173.5" y2="522.5" stroke="#000" stroke-width="1"/>
<line x1="171.2" y1="522.5" x2="175.8" y2="522.5" stroke="#000" stroke-width="1"/>
<line x1="176.5" y1="530.48" x2="176.5" y2="529.5" stroke="#000" stroke-width="1"/>
<line x1="174.2" y1="529.5" x2="178.8" y2="529.5" stroke="#000" stroke-width="1"/>
<line x1="179.5" y1="621.43" x2="179.5" y2="619.5" stroke="#000" stroke-width="1"/>
<line x1="177.2" y1="619.5" x2="181.8" y2="619.5" stroke="#000" stroke-width="1"/>
<line x1="183.5" y1="621.88" x2="183.5" y2="620.5" stroke="#000" stroke-width="1"/>
<line x1="181.2" y1="620.5" x2="185.8" y2="620.5" stroke="#000" stroke-width="1"/>
<line x1="186.5" y1="621.43" x2="186.5" y2="620.5" stroke="#000" stroke-width="1"/>
<line x1="184.2" y1="620.5" x2="188.8" y2="620.5" stroke="#000" stroke-width="1"/>
<line x1="189.5" y1="620.31" x2="189.5" y2="612.5" stroke="#000" stroke-width="1"/>
<line x1="187.2" y1="612.5" x2="191.8" y2="612.5" stroke="#000" stroke-width="1"/>
<rect x="194.65" y="564.09" width="3.05" height="65.71" fill="#4374B2"/>
<rect x="197.7" y="566.23" width="3.05" height="63.57" fill="#BE3F3F"/>
<rect x="200.75" y="527.89" width="3.05" height="101.91" fill="#8FB247"/>
<rect x="203.8" y="527.55" width="3.05" height="102.25" fill="#7A52A0"/>
<rect x="206.85" y="621.43" width="3.05" height="8.37" fill="#3AA2B8"/>
<rect x="209.9" y="621.88" width="3.05" height="7.92" fill="#EC8A3A"/>
<rect x="212.95" y="620.87" width="3.05" height="8.93" fill="#8FAAD5"/>
<rect x="216" y="621.88" width="3.05" height="7.92" fill="#DB8D8E"/>
<line x1="196.5" y1="564.09" x2="196.5" y2="562.5" stroke="#000" stroke-width="1"/>
<line x1="194.2" y1="562.5" x2="198.8" y2="562.5" stroke="#000" stroke-width="1"/>
<line x1="199.5" y1="566.23" x2="199.5" y2="565.5" stroke="#000" stroke-width="1"/>
<line x1="197.2" y1="565.5" x2="201.8" y2="565.5" stroke="#000" stroke-width="1"/>
<line x1="202.5" y1="527.89" x2="202.5" y2="526.5" stroke="#000" stroke-width="1"/>
<line x1="200.2" y1="526.5" x2="204.8" y2="526.5" stroke="#000" stroke-width="1"/>
<line x1="205.5" y1="527.55" x2="205.5" y2="526.5" stroke="#000" stroke-width="1"/>
<line x1="203.2" y1="526.5" x2="207.8" y2="526.5" stroke="#000" stroke-width="1"/>
<line x1="208.5" y1="621.43" x2="208.5" y2="619.5" stroke="#000" stroke-width="1"/>
<line x1="206.2" y1="619.5" x2="210.8" y2="619.5" stroke="#000" stroke-width="1"/>
<line x1="211.5" y1="621.88" x2="211.5" y2="620.5" stroke="#000" stroke-width="1"/>
<line x1="209.2" y1="620.5" x2="213.8" y2="620.5" stroke="#000" stroke-width="1"/>
<line x1="214.5" y1="620.87" x2="214.5" y2="619.5" stroke="#000" stroke-width="1"/>
<line x1="212.2" y1="619.5" x2="216.8" y2="619.5" stroke="#000" stroke-width="1"/>
<line x1="217.5" y1="621.88" x2="217.5" y2="620.5" stroke="#000" stroke-width="1"/>
<line x1="215.2" y1="620.5" x2="219.8" y2="620.5" stroke="#000" stroke-width="1"/>
<rect x="223.03" y="562.97" width="3.05" height="66.83" fill="#4374B2"/>
<rect x="226.08" y="565.44" width="3.05" height="64.36" fill="#BE3F3F"/>
<rect x="229.13" y="500.79" width="3.05" height="129.01" fill="#8FB247"/>
<rect x="232.18" y="504.39" width="3.05" height="125.41" fill="#7A52A0"/>
<rect x="235.23" y="580.84" width="3.05" height="48.96" fill="#3AA2B8"/>
<rect x="238.28" y="554.2" width="3.05" height="75.6" fill="#EC8A3A"/>
<rect x="241.33" y="503.6" width="3.05" height="126.2" fill="#8FAAD5"/>
<rect x="244.38" y="619.74" width="3.05" height="10.06" fill="#DB8D8E"/>
<line x1="224.5" y1="562.97" x2="224.5" y2="560.5" stroke="#000" stroke-width="1"/>
<line x1="222.2" y1="560.5" x2="226.8" y2="560.5" stroke="#000" stroke-width="1"/>
<line x1="227.5" y1="565.44" x2="227.5" y2="564.5" stroke="#000" stroke-width="1"/>
<line x1="225.2" y1="564.5" x2="229.8" y2="564.5" stroke="#000" stroke-width="1"/>
<line x1="230.5" y1="500.79" x2="230.5" y2="496.5" stroke="#000" stroke-width="1"/>
<line x1="228.2" y1="496.5" x2="232.8" y2="496.5" stroke="#000" stroke-width="1"/>
<line x1="233.5" y1="504.39" x2="233.5" y2="502.5" stroke="#000" stroke-width="1"/>
<line x1="231.2" y1="502.5" x2="235.8" y2="502.5" stroke="#000" stroke-width="1"/>
<line x1="236.5" y1="580.84" x2="236.5" y2="578.5" stroke="#000" stroke-width="1"/>
<line x1="234.2" y1="578.5" x2="238.8" y2="578.5" stroke="#000" stroke-width="1"/>
<line x1="239.5" y1="554.2" x2="239.5" y2="553.5" stroke="#000" stroke-width="1"/>
<line x1="237.2" y1="553.5" x2="241.8" y2="553.5" stroke="#000" stroke-width="1"/>
<line x1="242.5" y1="503.6" x2="242.5" y2="498.5" stroke="#000" stroke-width="1"/>
<line x1="240.2" y1="498.5" x2="244.8" y2="498.5" stroke="#000" stroke-width="1"/>
<line x1="245.5" y1="619.74" x2="245.5" y2="616.5" stroke="#000" stroke-width="1"/>
<line x1="243.2" y1="616.5" x2="247.8" y2="616.5" stroke="#000" stroke-width="1"/>
<line x1="50.5" y1="472.4" x2="50.5" y2="629.8" stroke="#868686" stroke-width="1"/>
<line x1="50.5" y1="629.8" x2="248.6" y2="629.8" stroke="#868686" stroke-width="1"/>
<line x1="50.5" y1="629.8" x2="50.5" y2="633.8" stroke="#868686" stroke-width="1"/>
<line x1="78.8" y1="629.8" x2="78.8" y2="633.8" stroke="#868686" stroke-width="1"/>
<line x1="107.1" y1="629.8" x2="107.1" y2="633.8" stroke="#868686" stroke-width="1"/>
<line x1="135.4" y1="629.8" x2="135.4" y2="633.8" stroke="#868686" stroke-width="1"/>
<line x1="163.7" y1="629.8" x2="163.7" y2="633.8" stroke="#868686" stroke-width="1"/>
<line x1="192" y1="629.8" x2="192" y2="633.8" stroke="#868686" stroke-width="1"/>
<line x1="220.3" y1="629.8" x2="220.3" y2="633.8" stroke="#868686" stroke-width="1"/>
<line x1="248.6" y1="629.8" x2="248.6" y2="633.8" stroke="#868686" stroke-width="1"/>
<text x="64.65" y="648.2" font-size="12" text-anchor="middle">64</text>
<text x="92.95" y="648.2" font-size="12" text-anchor="middle">32</text>
<text x="121.25" y="648.2" font-size="12" text-anchor="middle">16</text>
<text x="149.55" y="648.2" font-size="12" text-anchor="middle">8</text>
<text x="177.85" y="648.2" font-size="12" text-anchor="middle">4</text>
<text x="206.15" y="648.2" font-size="12" text-anchor="middle">2</text>
<text x="234.45" y="648.2" font-size="12" text-anchor="middle">0</text>
<text x="54.0" y="667.9" font-size="14.4">Mouthwash; Chlorhexidine (µg/ml)</text>
<text transform="translate(13.8,553.1) rotate(-90)" font-size="14.4" text-anchor="middle">Optical density (600 nm)</text>
<rect x="266.9" y="489.6" width="6.7" height="6.6" fill="#4374B2"/>
<text x="276.4" y="497.2" font-size="12.5" xml:space="preserve"><tspan font-style="italic">C. culicis</tspan></text>
<rect x="266.9" y="510.7" width="6.7" height="6.6" fill="#BE3F3F"/>
<text x="276.4" y="518.3" font-size="12.5" xml:space="preserve"><tspan font-style="italic">C. indologenes</tspan></text>
<rect x="266.9" y="531.8" width="6.7" height="6.6" fill="#8FB247"/>
<text x="276.4" y="539.4" font-size="12.5" xml:space="preserve"><tspan font-style="italic">A. johnsonii</tspan></text>
<rect x="266.9" y="552.9" width="6.7" height="6.6" fill="#7A52A0"/>
<text x="276.4" y="560.5" font-size="12.5" xml:space="preserve"><tspan font-style="italic">E. ludwigii</tspan></text>
<rect x="266.9" y="574" width="6.7" height="6.6" fill="#3AA2B8"/>
<text x="276.4" y="581.6" font-size="12.5" xml:space="preserve"><tspan font-style="italic">S. salivarius</tspan></text>
<rect x="266.9" y="595.1" width="6.7" height="6.6" fill="#EC8A3A"/>
<text x="276.4" y="602.7" font-size="12.5" xml:space="preserve"><tspan font-style="italic">P. stutzeri</tspan></text>
<rect x="266.9" y="616.2" width="6.7" height="6.6" fill="#8FAAD5"/>
<text x="276.4" y="623.8" font-size="12.5" xml:space="preserve"><tspan font-style="italic">E. coli</tspan> (control)</text>
<rect x="266.9" y="637.3" width="6.7" height="6.6" fill="#DB8D8E"/>
<text x="276.4" y="644.9" font-size="12.5" xml:space="preserve">Media (control)</text>
</svg>
</body></html>
